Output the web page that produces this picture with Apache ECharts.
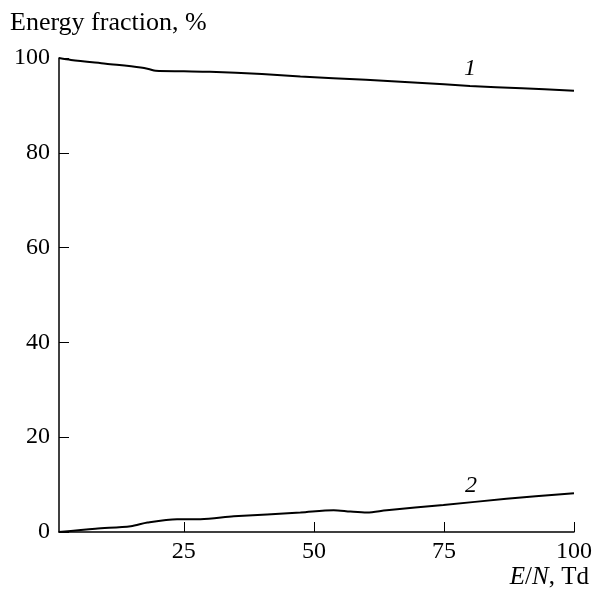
<!DOCTYPE html>
<html>
<head>
<meta charset="utf-8">
<script src="https://cdn.jsdelivr.net/npm/echarts@6/dist/echarts.min.js"></script>
<style>
  html, body { margin: 0; padding: 0; background: #fff; }
  #chart { width: 596px; height: 593px; }
</style>
</head>
<body>
<div id="chart"></div>
<script>
// E/N, Td
const x1 = [1, 3.3, 10, 16.7, 18.2, 19.6, 25, 30, 40, 47.4, 60, 70, 80, 90, 100];
const y1 = [100, 99.6, 98.8, 98.0, 97.7, 97.3, 97.2, 97.1, 96.6, 96.1, 95.4, 94.8, 94.1, 93.6, 93.1];

const x2 = [1, 8, 14.8, 18, 23.7, 28.2, 34.6, 47.4, 53.8, 57, 60.2, 64, 74.9, 87, 100];
const y2 = [0, 0.7, 1.2, 2.0, 2.7, 2.7, 3.3, 4.1, 4.6, 4.3, 4.1, 4.6, 5.7, 7.0, 8.2];

const xTicks = [25, 50, 75, 100];

const font = '"Liberation Serif", "DejaVu Serif", serif';

const chart = echarts.init(document.getElementById('chart'));

chart.setOption({
  animation: false,
  backgroundColor: '#fff',
  grid: { left: 59, right: 22, top: 58, bottom: 61 },
  xAxis: {
    type: 'value',
    min: 1,
    max: 100,
    axisLine: { lineStyle: { color: '#000', width: 1.5 } },
    axisTick: { inside: true, length: 10, customValues: xTicks, lineStyle: { color: '#000', width: 1 } },
    axisLabel: { customValues: xTicks, color: '#000', fontFamily: font, fontSize: 24, margin: 8 },
    splitLine: { show: false }
  },
  yAxis: {
    type: 'value',
    min: 0,
    max: 100,
    interval: 20,
    axisLine: { show: true, lineStyle: { color: '#000', width: 1.5 } },
    axisTick: { show: true, inside: true, length: 10, lineStyle: { color: '#000', width: 1 } },
    axisLabel: { color: '#000', fontFamily: font, fontSize: 24, margin: 9 },
    splitLine: { show: false }
  },
  graphic: [
    { type: 'text', left: 10, top: 10, style: { text: 'Energy fraction, %', font: '26px ' + font, fill: '#000' } },
    { type: 'text', right: 7, top: 565, style: { rich: { i: { fontStyle: 'italic', fontFamily: font, fontSize: 25 }, n: { fontFamily: font, fontSize: 25 } }, text: '{i|E}{n|/}{i|N}{n|, Td}', fill: '#000' } },
    { type: 'text', left: 464, top: 57, style: { text: '1', font: 'italic 24px ' + font, fill: '#000' } },
    { type: 'text', left: 465, top: 474, style: { text: '2', font: 'italic 24px ' + font, fill: '#000' } }
  ],
  series: [
    {
      type: 'line',
      data: x1.map((x, i) => [x, y1[i]]),
      smooth: 0.3,
      showSymbol: false,
      lineStyle: { color: '#000', width: 2 }
    },
    {
      type: 'line',
      data: x2.map((x, i) => [x, y2[i]]),
      smooth: 0.3,
      showSymbol: false,
      lineStyle: { color: '#000', width: 2 }
    }
  ]
});
</script>
</body>
</html>
